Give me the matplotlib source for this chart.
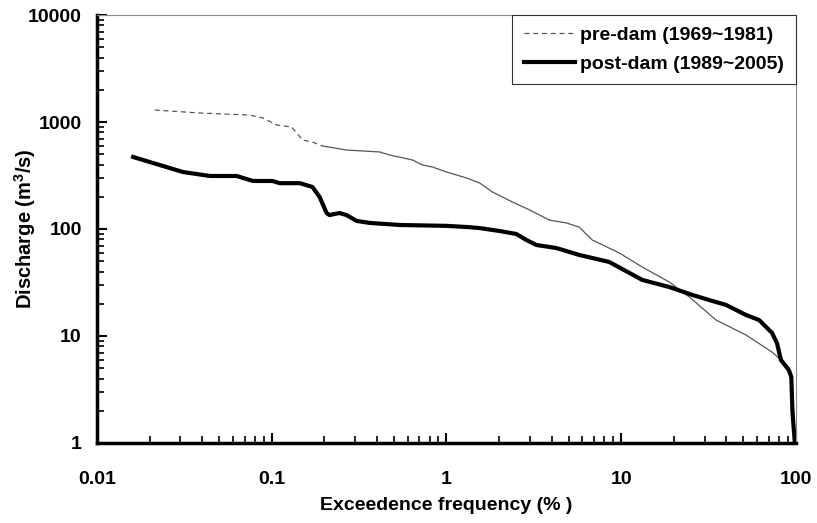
import matplotlib
matplotlib.use('Agg')
import matplotlib.pyplot as plt
from matplotlib.ticker import FixedLocator, FixedFormatter, LogLocator, NullFormatter

plt.rcParams['font.family'] = ['Liberation Sans', 'DejaVu Sans']
plt.rcParams['font.weight'] = 'bold'
plt.rcParams['mathtext.fontset'] = 'custom'
plt.rcParams['mathtext.rm'] = 'Liberation Sans:bold'
plt.rcParams['mathtext.bf'] = 'Liberation Sans:bold'

# pre-dam (1969~1981)
pre_x = [0.0214, 0.0388, 0.0748, 0.089, 0.107, 0.130, 0.139, 0.150, 0.171, 0.195,
         0.268, 0.414, 0.472, 0.64, 0.73, 0.83, 1.0, 1.30, 1.55, 1.83, 2.38, 2.98,
         3.88, 4.85, 5.75, 6.82, 9.75, 13.2, 18.8, 24.5, 34.9, 51.8, 72.9, 82, 91,
         95.5, 99]
pre_q = [1295, 1213, 1162, 1089, 937, 898, 789, 679, 650, 597,
         547, 525, 492, 441, 396, 380, 341, 300, 269, 222, 179, 151,
         121, 114, 104, 79, 59.7, 44.1, 32, 23.2, 14.1, 10.2, 7.08, 5.97, 5.1,
         3.3, 1]

# post-dam (1989~2005)
post_x = [0.0161, 0.031, 0.0443, 0.063, 0.078, 0.101, 0.111, 0.145, 0.171, 0.188,
          0.206, 0.214, 0.244, 0.268, 0.306, 0.363, 0.54, 1.0, 1.35, 1.55, 2.01,
          2.51, 2.86, 3.27, 4.25, 5.75, 8.53, 13.2, 18.8, 25.5, 31.8, 39.8, 51.8,
          61.5, 72.9, 77.8, 82, 91, 94, 95.5, 98.5]
post_q = [471, 341, 313, 313, 281, 281, 268, 268, 247, 199,
          141, 135, 141, 135, 119, 114, 109, 107, 104, 102, 95.8,
          89.8, 79, 70.9, 66.4, 57.2, 49.2, 33.4, 28.7, 24.2, 21.7, 19.5, 15.7,
          14.1, 10.7, 8.6, 5.97, 4.8, 4.14, 1.91, 1]

x_ticks = [0.01, 0.1, 1, 10, 100]
x_labels = ['0.01', '0.1', '1', '10', '100']
y_ticks = [1, 10, 100, 1000, 10000]
y_labels = ['1', '10', '100', '1000', '10000']

fig = plt.figure(figsize=(8.17, 5.23), dpi=100)
ax = fig.add_axes([0.1187, 0.153, 0.8556, 0.8183])

# dashes only show on the long early segments, the dense tail looks solid
split = 10
ax.plot(pre_x[:split], pre_q[:split], color='#555555', lw=0.9,
        linestyle=(0, (4, 3)), label='pre-dam (1969~1981)')
ax.plot(pre_x[split-1:], pre_q[split-1:], color='#555555', lw=0.9)
ax.plot(post_x, post_q, color='black', lw=3.0, solid_joinstyle='round',
        label='post-dam (1989~2005)')

ax.set_xscale('log')
ax.set_yscale('log')
ax.set_xlim(0.01, 100)
ax.set_ylim(1, 10000)

ax.xaxis.set_major_locator(FixedLocator(x_ticks))
ax.xaxis.set_major_formatter(FixedFormatter(x_labels))
ax.yaxis.set_major_locator(FixedLocator(y_ticks))
ax.yaxis.set_major_formatter(FixedFormatter(y_labels))
ax.xaxis.set_minor_locator(LogLocator(base=10, subs=range(2, 10)))
ax.yaxis.set_minor_locator(LogLocator(base=10, subs=range(2, 10)))
ax.xaxis.set_minor_formatter(NullFormatter())
ax.yaxis.set_minor_formatter(NullFormatter())

ax.tick_params(which='major', direction='in', length=7, width=1.5,
               labelsize=14, top=False, right=False)
ax.tick_params(which='minor', direction='in', length=5, width=1.2,
               top=False, right=False)
ax.tick_params(axis='x', which='major', pad=20)
ax.tick_params(axis='y', which='major', pad=11)

for s in ['left', 'bottom']:
    ax.spines[s].set_linewidth(2.5)
    ax.spines[s].set_color('black')
for s in ['top', 'right']:
    ax.spines[s].set_linewidth(0.8)
    ax.spines[s].set_color('#888888')

ax.set_xlabel('Exceedence frequency (% )', fontsize=14, fontweight='bold', labelpad=7)
ax.set_ylabel('Discharge (m$^{3}$/s)', fontsize=14.5, fontweight='bold')
ax.yaxis.set_label_coords(-0.085, 0.5)

leg = ax.legend(loc='upper right', borderaxespad=0, fancybox=False,
                prop={'size': 14, 'weight': 'bold'}, handlelength=2.6,
                handletextpad=0.3, borderpad=0.6, labelspacing=0.55,
                framealpha=1)
leg.get_frame().set_edgecolor('#333333')
leg.get_frame().set_linewidth(0.8)

fig.savefig('out.png', dpi=100)
